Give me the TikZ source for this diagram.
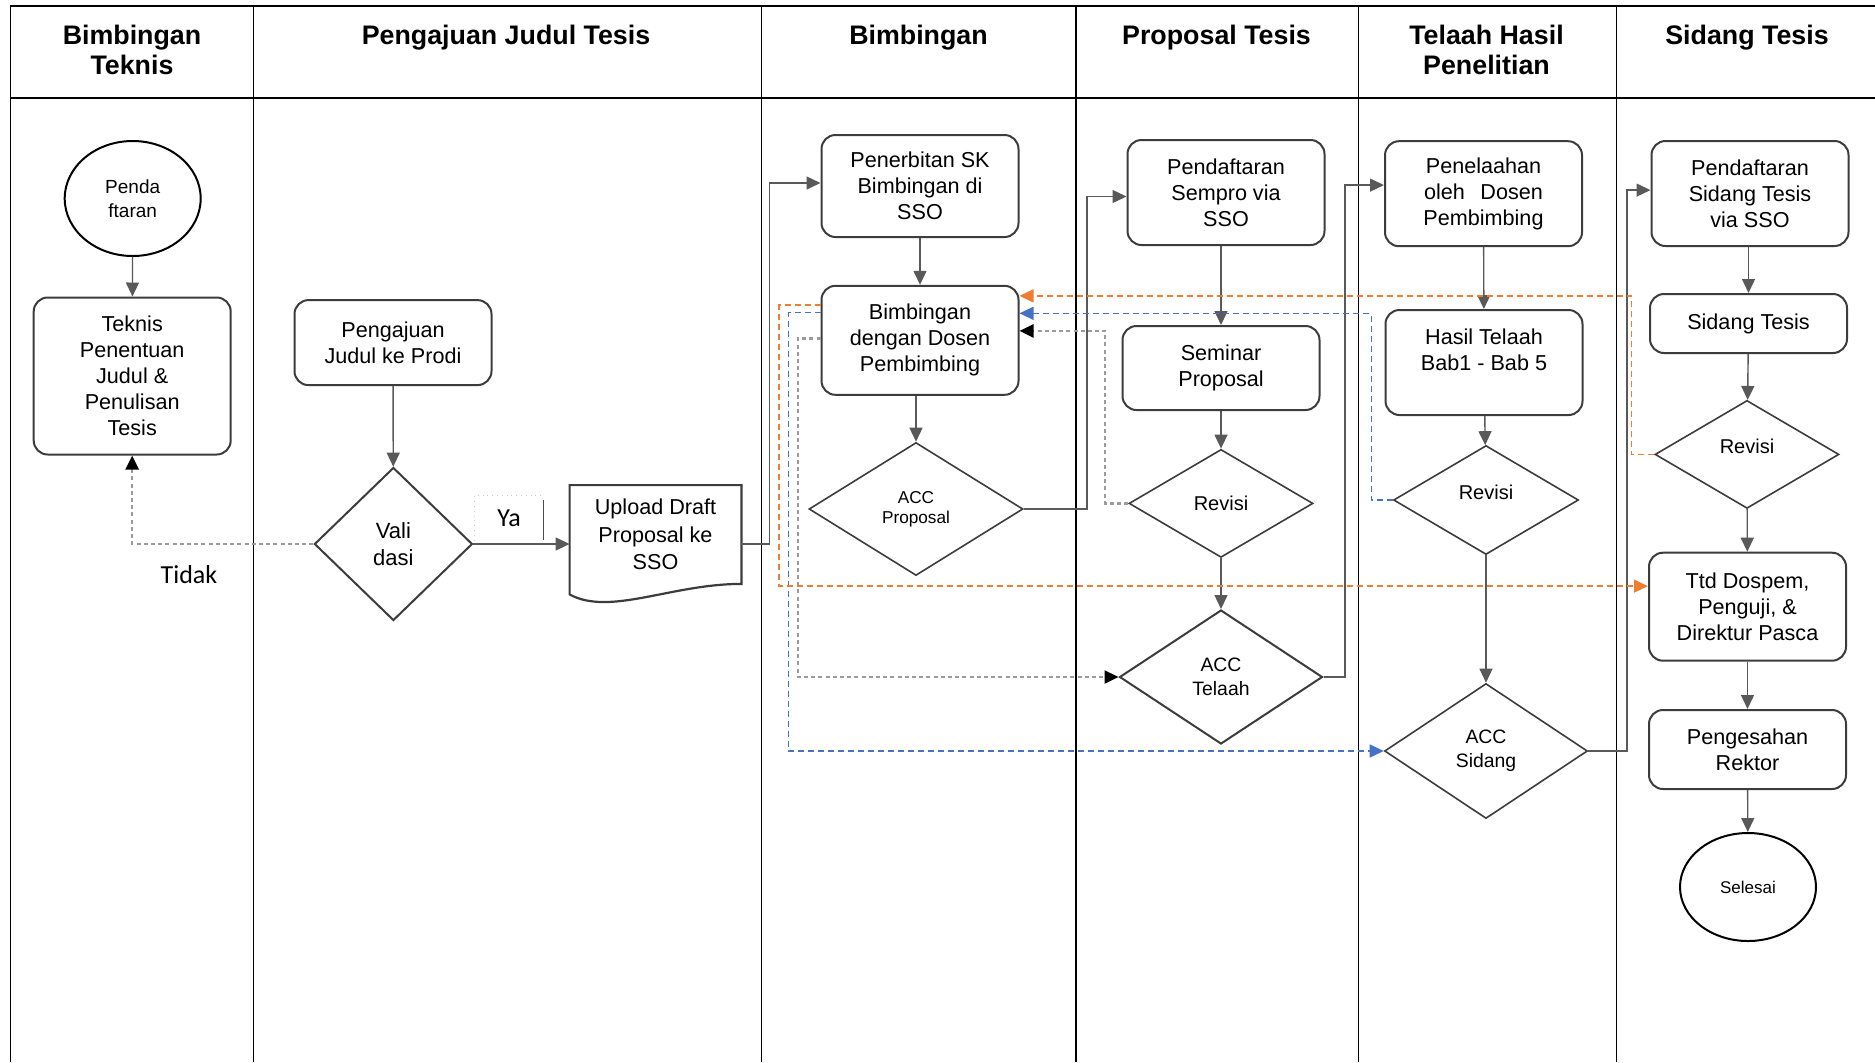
\documentclass[tikz,border=0pt]{standalone}
\usepackage{fontspec}
\setmainfont{Liberation Sans}
\newfontfamily\calibri{Carlito}
\usetikzlibrary{arrows.meta,shapes.geometric}
\definecolor{boxline}{RGB}{60,60,60}
\definecolor{flowgray}{RGB}{155,155,155}
\definecolor{floworange}{RGB}{237,125,49}
\definecolor{flowblue}{RGB}{68,114,196}
\tikzset{
  lane/.style={black, line width=0.6pt},
  lanehead/.style={font=\fontsize{13.4}{15}\selectfont\bfseries, align=center, anchor=north, inner sep=0pt},
  procbox/.style={draw=boxline, line width=1pt, rounded corners=7pt, minimum width=98.5pt, align=center, inner sep=2pt, font=\fontsize{10.8}{13}\selectfont},
  decision/.style={draw=boxline, line width=0.8pt, diamond, inner sep=0pt, align=center, font=\fontsize{10}{12}\selectfont},
  terminal/.style={draw=black, line width=1pt, ellipse, inner sep=0pt, minimum width=68pt, align=center},
  answer/.style={font=\calibri\fontsize{13}{15}\selectfont, inner sep=0pt},
  flow/.style={-{Triangle[length=7pt,width=6.5pt]}, black!65, line width=0.7pt},
  backgray/.style={-{Triangle[length=7pt,width=6.5pt,color=black]}, flowgray, line width=1.2pt, dash pattern=on 2pt off 1.6pt},
  backblue/.style={-{Triangle[length=7pt,width=6.5pt]}, flowblue, line width=0.7pt, dash pattern=on 3pt off 2pt},
  backorange/.style={-{Triangle[length=7pt,width=6.5pt]}, floworange, line width=0.7pt, dash pattern=on 3pt off 2pt}
}

\begin{document}
\begin{tikzpicture}[x=0.5pt, y=-0.5pt]
\useasboundingbox (0,0) rectangle (1875,1062);
% lanes
\draw[lane] (10.8,1062) -- (10.8,6) -- (1875,6);
\draw[lane] (10.8,98) -- (1875,98);
\foreach \x in {253.5,761.7,1076,1358.4,1616.7} {
  \draw[lane] (\x,6) -- (\x,1062);
}
\node[lanehead] (head1) at (132,25) {Bimbingan\\Teknis};
\node[lanehead] (head2) at (506,25) {Pengajuan Judul Tesis};
\node[lanehead] (head3) at (918.5,25) {Bimbingan};
\node[lanehead] (head4) at (1216.5,25) {Proposal Tesis};
\node[lanehead] (head5) at (1486.5,25) {Telaah Hasil\\Penelitian};
\node[lanehead] (head6) at (1747,25) {Sidang Tesis};

% Bimbingan Teknis
\node[terminal, minimum height=57.5pt, font=\fontsize{9.5}{12}\selectfont] (daftar) at (132.7,198.5) {Penda\\ftaran};
\node[procbox, minimum height=78.5pt] (teknis) at (132.2,376) {Teknis\\Penentuan\\Judul \&\\Penulisan\\Tesis};
\node[answer] (tidak) at (189,575) {Tidak};

% Pengajuan Judul Tesis
\node[procbox, minimum height=42.5pt] (judul) at (393,342.6) {Pengajuan\\Judul ke Prodi};
\node[decision, minimum width=79pt, minimum height=76.5pt, line width=1pt, font=\fontsize{11}{13.7}\selectfont] (validasi) at (393.4,544) {Vali\\dasi};
\node[answer, minimum width=34pt, minimum height=22pt] (ya) at (509,518) {Ya};
\draw[black!20, dotted] (ya.south west) -- (ya.north west) -- (ya.north east);
\draw[black!70, line width=0.9pt] ([yshift=-2pt]ya.north east) -- (ya.south east);
\node[minimum width=85.5pt, minimum height=49pt, inner sep=0pt, align=center, font=\fontsize{10.8}{13.7}\selectfont] (upload) at (655.5,534.5) {Upload Draft\\Proposal ke\\SSO};
\draw[boxline, line width=1.1pt] (upload.north west) -- (upload.north east) -- (upload.south east)
  .. controls +(-70,0) and +(40,22) .. ([shift={(0,10.5)}]upload.south west) -- cycle;

% Bimbingan
\node[procbox, minimum height=51pt] (sk) at (920,186) {Penerbitan SK\\Bimbingan di\\SSO};
\node[procbox, minimum height=54.5pt] (bimbingan) at (920,340.3) {Bimbingan\\dengan Dosen\\Pembimbing};
\node[decision, minimum width=107pt, minimum height=66.5pt, font=\fontsize{8.6}{10}\selectfont] (accprop) at (916,509) {ACC\\Proposal};

% Proposal Tesis
\node[procbox, minimum height=52.5pt] (sempro) at (1226,192.5) {Pendaftaran\\Sempro via\\SSO};
\node[procbox, minimum height=42pt] (seminar) at (1221,368) {Seminar\\Proposal};
\node[decision, minimum width=92pt, minimum height=54pt] (revprop) at (1221,503.4) {Revisi};
\node[decision, minimum width=101.5pt, minimum height=67pt, line width=1pt, font=\fontsize{9.7}{12}\selectfont] (acctelaah) at (1221,677) {ACC\\Telaah};

% Telaah Hasil Penelitian
\node[procbox, minimum height=52.5pt] (telaah) at (1483.5,193.7) {Penelaahan\\\makebox[5.5em][s]{oleh Dosen}\\Pembimbing};
\node[procbox, minimum height=52.5pt] (hasil) at (1484,362.5) {Hasil Telaah\\Bab1 - Bab 5\\\mbox{}};
\node[decision, minimum width=92.5pt, minimum height=54.5pt] (revtelaah) at (1486,500) {\raisebox{4pt}[\height][\depth]{Revisi}};
\node[decision, minimum width=101.5pt, minimum height=67.5pt, font=\fontsize{9.7}{12}\selectfont] (accsidang) at (1486,751) {ACC\\Sidang};

% Sidang Tesis
\node[procbox, minimum height=52.5pt] (daftarsidang) at (1750,193.5) {Pendaftaran\\Sidang Tesis\\via SSO};
\node[procbox, minimum height=29.5pt] (sidang) at (1748.5,323.5) {Sidang Tesis};
\node[decision, minimum width=92pt, minimum height=54pt] (revsidang) at (1747,454.4) {\raisebox{4pt}[\height][\depth]{Revisi}};
\node[procbox, minimum height=54pt] (ttd) at (1747.5,606.7) {Ttd Dospem,\\Penguji, \&\\Direktur Pasca};
\node[procbox, minimum height=39.5pt] (sah) at (1747.5,749.5) {Pengesahan\\Rektor};
\node[terminal, minimum height=54pt, font=\fontsize{8.5}{10}\selectfont] (selesai) at (1748,887) {Selesai};

% main flow
\draw[flow] (daftar) -- (teknis);
\draw[flow] (judul) -- (validasi);
\draw[flow] (validasi.east) -- (validasi.east -| upload.west);
\draw[flow] (upload.east |- validasi.east) -- ++(28,0) |- ([yshift=1.5pt]sk.west);
\draw[flow] (sk) -- (bimbingan);
\draw[flow] (accprop.north |- bimbingan.south) -- (accprop.north);
\draw[flow] (accprop.east) -- ++(63,0) |- ([yshift=-2pt]sempro.west);
\draw[flow] (seminar.north |- sempro.south) -- (seminar.north);
\draw[flow] (seminar) -- (revprop);
\draw[flow] (revprop) -- (acctelaah);
\draw[flow] (acctelaah.east) -- ++(21.5,0) |- ([yshift=4.3pt]telaah.west);
\draw[flow] (telaah) -- (hasil);
\draw[flow] (hasil) -- (revtelaah);
\draw[flow] (revtelaah) -- (accsidang);
\draw[flow] (accsidang.east) -- ++(38.5,0) |- ([yshift=1.7pt]daftarsidang.west);
\draw[flow] (sidang.north |- daftarsidang.south) -- (sidang.north);
\draw[flow] (sidang) -- (revsidang);
\draw[flow] (revsidang) -- (ttd);
\draw[flow] (ttd) -- (sah);
\draw[flow] (sah) -- (selesai);

% back loops
\draw[backgray] (validasi.west) -| (teknis.south);
\draw[backgray] (revprop.west) -- ++(-23,0) |- ([yshift=4.7pt]bimbingan.east);
\draw[backgray] ([yshift=1pt]bimbingan.west) -- ++(-22.5,0) |- (acctelaah.west);
\draw[backblue] (revtelaah.west) -- ++(-21.5,0) |- ([yshift=13.5pt]bimbingan.east);
\draw[backblue] ([yshift=13.9pt]bimbingan.west) -- ++(-32,0) |- (accsidang.west);
\draw[backorange] (revsidang.west) -- ++(-23,0) |- ([yshift=22.2pt]bimbingan.east);
\draw[backorange] ([yshift=17.6pt]bimbingan.west) -- ++(-41.5,0) |- ([yshift=10.3pt]ttd.west);
\end{tikzpicture}
\end{document}
